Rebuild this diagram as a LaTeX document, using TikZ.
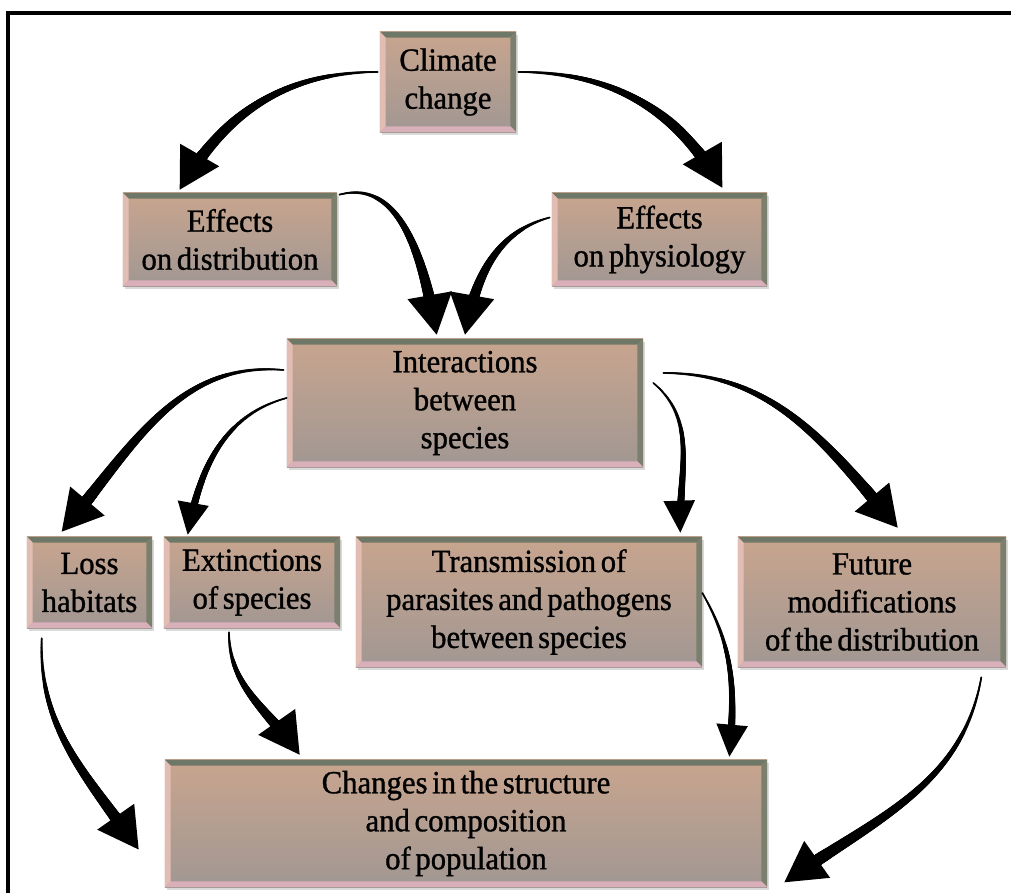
\documentclass[tikz,border=0pt]{standalone}
\usepackage{fontspec}
\newfontfamily\boxfont[FakeBold=1,FakeStretch=0.95,WordSpace=0.6]{Liberation Serif}
\usetikzlibrary{calc}
\usetikzlibrary{arrows.meta}
\usetikzlibrary{shadows}
\usetikzlibrary{decorations.markings}

\definecolor{boxtop}{HTML}{C8A58E}
\definecolor{boxbot}{HTML}{A19793}
\definecolor{bevtop}{HTML}{6F7866}
\definecolor{bevright}{HTML}{7B806E}
\definecolor{bevleft}{HTML}{E2BDB3}
\definecolor{bevbot}{HTML}{D9AFBA}

\tikzset{
  bevel/.style = {path picture={
      \path (path picture bounding box.south west) coordinate (sw)
            (path picture bounding box.north east) coordinate (ne);
      \fill[bevtop] (sw|-ne) -- (ne) -- ++(-1.4mm,-1.4mm) -- ($(sw|-ne)+(1.4mm,-1.4mm)$) -- cycle;
      \fill[bevright] (ne) -- (ne|-sw) -- ++(-1.4mm,1.4mm) -- ($(ne)+(-1.4mm,-1.4mm)$) -- cycle;
      \fill[bevbot] (sw) -- (ne|-sw) -- ++(-1.4mm,1.4mm) -- ($(sw)+(1.4mm,1.4mm)$) -- cycle;
      \fill[bevleft] (sw) -- (sw|-ne) -- ++(1.4mm,-1.4mm) -- ($(sw)+(1.4mm,1.4mm)$) -- cycle;
  }},
  % thin at the start, thick near the head
  taper/.style = {decoration={markings, mark=between positions 0 and 0.9 step 0.5pt with {
      \pgfmathsetmacro\tr{0.6+#1*\pgfkeysvalueof{/pgf/decoration/mark info/distance from start}/\pgfdecoratedpathlength}
      \fill (0,0) circle (\tr pt);}}, postaction=decorate}
}

\begin{document}
\begin{tikzpicture}[x=0.025cm, y=0.025cm,
    main/.style = {rectangle, top color=boxtop, bottom color=boxbot, inner sep=0pt, align=center,
      font=\boxfont\fontsize{23}{27}\selectfont,
      drop shadow={opacity=0.3, shadow xshift=0.6mm, shadow yshift=-0.8mm}, bevel},
    flow/.style = {line width=1pt, taper=4.2, -{Triangle[length=1cm, width=1.12cm]}},
    thinflow/.style = {line width=1pt, taper=2.4, -{Triangle[length=0.8cm, width=0.78cm]}}]
  \useasboundingbox (0,0) rectangle (1011,893);
  \draw[line width=2.2pt] (8,0) -- (8,880) -- (1011,880);

  \node[main, minimum width=3.4cm, minimum height=2.5cm] (1) at (448,811) {Climate\\change};
  \node[main, minimum width=5.35cm, minimum height=2.325cm] (2) at (230,653.5) {Effects\\on distribution};
  \node[main, minimum width=5.375cm, minimum height=2.325cm] (3) at (659.5,653.5) {Effects\\on physiology};
  \node[main, minimum width=8.9cm, minimum height=3.2cm] (4) at (465,490) {Interactions\\between\\species};
  \node[main, minimum width=3.125cm, minimum height=2.275cm] (5) at (89.5,310.5) {Loss\\habitats};
  \node[main, minimum width=4.4cm, minimum height=2.275cm] (6) at (252,310.5) {Extinctions\\of species};
  \node[main, minimum width=8.65cm, minimum height=3.25cm] (7) at (529,291) {Transmission of\\parasites and pathogens\\between species};
  \node[main, minimum width=6.7cm, minimum height=3.25cm] (8) at (872,291) {Future\\modifications\\of the distribution};
  \node[main, minimum width=15.05cm, minimum height=3.175cm] (9) at (466,69.5) {Changes in the structure\\and composition\\of population};

  % top
  \path ($(1.west)+(-2,10)$) edge[flow, out=180, in=60] ($(2.north west)+(57,3)$);
  \path ($(1.east)+(2,10)$) edge[flow, out=0, in=120] ($(3.north east)+(-45,5)$);
  \path ($(2.north east)+(2,-2)$) edge[flow, out=15, in=100] ($(4.north west)+(150,4)$);
  \path ($(3.west)+(-2,22)$) edge[flow, out=195, in=80] ($(4.north)+(0,4)$);
  % middle
  \path ($(4.west)+(-3,33)$) edge[flow, out=175, in=50] ($(5.north west)+(35,5)$);
  \path ($(4.west)+(0,5)$) edge[thinflow, out=195, in=80] ($(6.north west)+(24,2)$);
  \path ($(4.east)+(10,20)$) edge[thinflow, out=-40, in=92] ($(7.north east)+(-22,4)$);
  \path ($(4.east)+(20,30)$) edge[flow, out=0, in=130] ($(8.north west)+(160,9)$);
  % bottom
  \path ($(5.south west)+(15,-10)$) edge[flow, out=-92, in=125] ($(9.west)+(-26,-26)$);
  \path ($(6.south)+(-23,-4)$) edge[flow, out=-90, in=125] ($(9.north west)+(135,5)$);
  \path ($(7.east)+(0,9)$) edge[thinflow, out=-60, in=85] ($(9.north east)+(-38,3)$);
  \path ($(8.south east)+(-25,-10)$) edge[flow, out=-100, in=35] ($(9.south east)+(17,5)$);
\end{tikzpicture}
\end{document}
